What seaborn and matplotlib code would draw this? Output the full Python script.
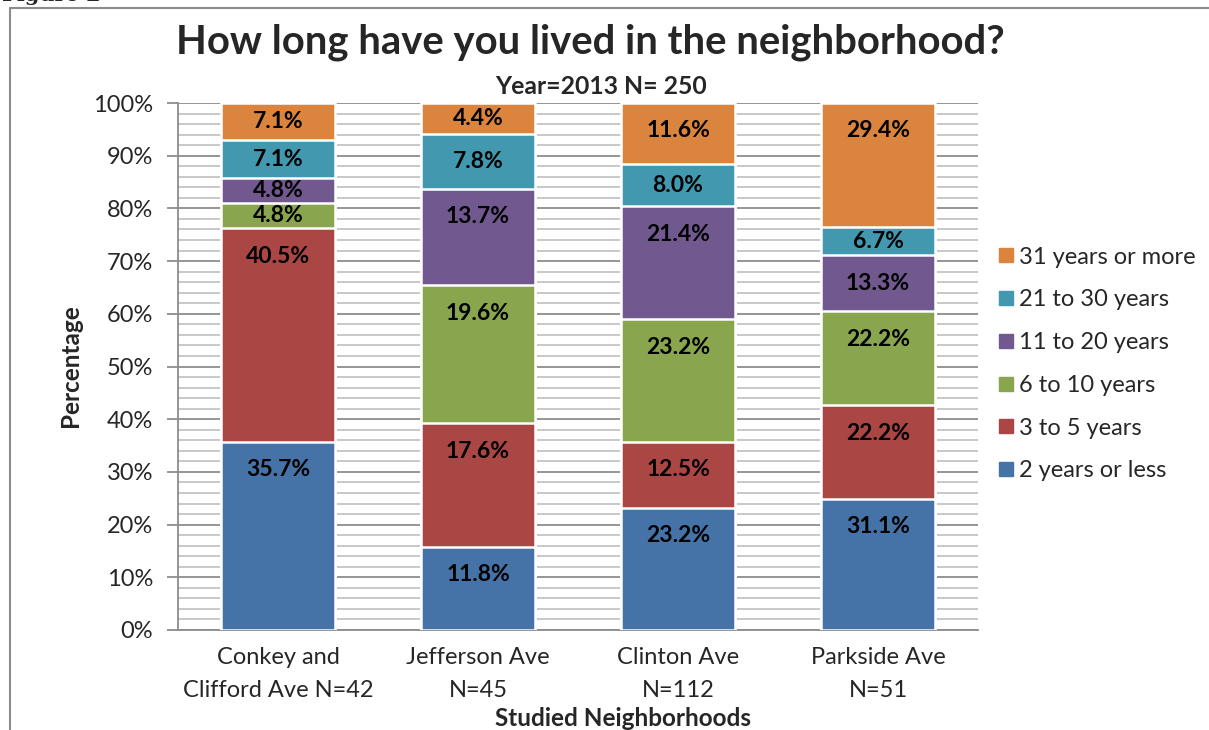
import numpy as np
import pandas as pd
import matplotlib
matplotlib.use("Agg")
import matplotlib.pyplot as plt
from matplotlib.lines import Line2D
from matplotlib.ticker import MultipleLocator, FuncFormatter
import seaborn as sns

# Neighborhoods (x categories) and survey shares per residence-length group (%)
neighborhoods = ["Conkey and\nClifford Ave N=42", "Jefferson Ave\nN=45",
                 "Clinton Ave\nN=112", "Parkside Ave\nN=51"]
groups = ["2 years or less", "3 to 5 years", "6 to 10 years",
          "11 to 20 years", "21 to 30 years", "31 years or more"]
years_2_or_less = [35.7, 11.8, 23.2, 31.1]
years_3_to_5 = [40.5, 17.6, 12.5, 22.2]
years_6_to_10 = [4.8, 19.6, 23.2, 22.2]
years_11_to_20 = [4.8, 13.7, 21.4, 13.3]
years_21_to_30 = [7.1, 7.8, 8.0, 6.7]
years_31_plus = [7.1, 4.4, 11.6, 29.4]

series = [years_2_or_less, years_3_to_5, years_6_to_10,
          years_11_to_20, years_21_to_30, years_31_plus]
colors = ["#4572A7", "#AA4643", "#89A54E", "#71588F", "#4198AF", "#DB843D"]

sns.set_theme(style="white")
FONT = ["Lato", "DejaVu Sans"]
plt.rcParams["font.family"] = FONT

W, H = 1209, 730
fig = plt.figure(figsize=(W / 100, H / 100), dpi=100)
ax = fig.add_axes([178 / W, 1 - 630 / H, 800 / W, 527 / H])

# 100% stacked: each column normalised by its own total
vals = np.array(series, dtype=float)          # shape (groups, hoods)
shares = vals / vals.sum(axis=0) * 100
cum = np.cumsum(shares, axis=0)

rows = []
for gi, g in enumerate(groups):
    for hi, h in enumerate(neighborhoods):
        rows.append({"group": g, "hood": h, "top": cum[gi, hi],
                     "share": shares[gi, hi], "value": vals[gi, hi]})
df = pd.DataFrame(rows)

# draw from the tallest cumulative bar down so each layer covers the one beneath
for gi in range(len(groups) - 1, -1, -1):
    sub = df[df["group"] == groups[gi]]
    sns.barplot(data=sub, x="hood", y="top", order=neighborhoods,
                color=colors[gi], saturation=1, width=0.57,
                edgecolor="white", linewidth=1.8, ax=ax, zorder=3)

# data labels near the top of each segment
for _, r in df.iterrows():
    hi = neighborhoods.index(r["hood"])
    top = r["top"]
    seg = r["share"]
    y = top - min(seg / 2, 5.3)
    ax.text(hi, y, f"{r['value']:.1f}%", ha="center", va="center",
            fontsize=16.5, fontweight="bold", color="black", zorder=5)

ax.set_xlim(-0.5, 3.5)
ax.set_ylim(0, 100)
ax.yaxis.set_major_locator(MultipleLocator(10))
ax.yaxis.set_minor_locator(MultipleLocator(2))
ax.yaxis.set_major_formatter(FuncFormatter(lambda v, p: f"{v:.0f}%"))
ax.grid(axis="y", which="minor", color="#C4C4C4", linewidth=1.3, zorder=0)
ax.grid(axis="y", which="major", color="#8C8C8C", linewidth=1.3, zorder=0)
ax.set_axisbelow(True)

for s in ["top", "right"]:
    ax.spines[s].set_visible(False)
for s in ["left", "bottom"]:
    ax.spines[s].set_color("#8C8C8C")
    ax.spines[s].set_linewidth(1.3)

ax.tick_params(axis="y", which="major", direction="out", length=8,
               width=1.3, color="#8C8C8C", labelsize=17, pad=10,
               left=True)
ax.tick_params(axis="y", which="minor", length=0)
ax.tick_params(axis="x", length=0, labelsize=17, pad=12)
for lab in ax.get_xticklabels():
    lab.set_linespacing(1.75)
ax.set_xlabel("")
ax.set_ylabel("")

fig.text(70 / W, 1 - 366 / H, "Percentage", rotation=90, ha="center",
         va="center", fontsize=17.5, fontweight="bold")
fig.text(623 / W, 1 - 719 / H, "Studied Neighborhoods", ha="center",
         va="center", fontsize=17.5, fontweight="bold")

fig.text(590 / W, 1 - 42 / H, "How long have you lived in the neighborhood?",
         ha="center", va="center", fontsize=28.8, fontweight="bold")
fig.text(601 / W, 1 - 87 / H, "Year=2013 N= 250", ha="center",
         va="center", fontsize=17.8, fontweight="bold")

# legend, longest residence first
handles = [Line2D([0], [0], marker="s", linestyle="", markersize=10,
                  markerfacecolor=colors[i], markeredgecolor=colors[i])
           for i in range(len(groups) - 1, -1, -1)]
labels = [groups[i] for i in range(len(groups) - 1, -1, -1)]
fig.legend(handles, labels, loc="center left",
           bbox_to_anchor=(986 / W, 1 - 364 / H), frameon=False,
           fontsize=17, labelspacing=0.92, handletextpad=0.1,
           handlelength=0.9, borderaxespad=0)

# frame around the chart object and the caption above it
fig.add_artist(Line2D([10 / W, 10 / W], [0, 1 - 8 / H], color="#8C8C8C",
                      linewidth=1.5, transform=fig.transFigure))
fig.add_artist(Line2D([10 / W, 1], [1 - 8 / H, 1 - 8 / H], color="#8C8C8C",
                      linewidth=1.5, transform=fig.transFigure))
fig.text(2 / W, 1 - 1 / H, "Figure 2", ha="left", va="baseline",
         fontsize=15, fontweight="bold", family="DejaVu Serif")

fig.savefig("out.png", dpi=100)
